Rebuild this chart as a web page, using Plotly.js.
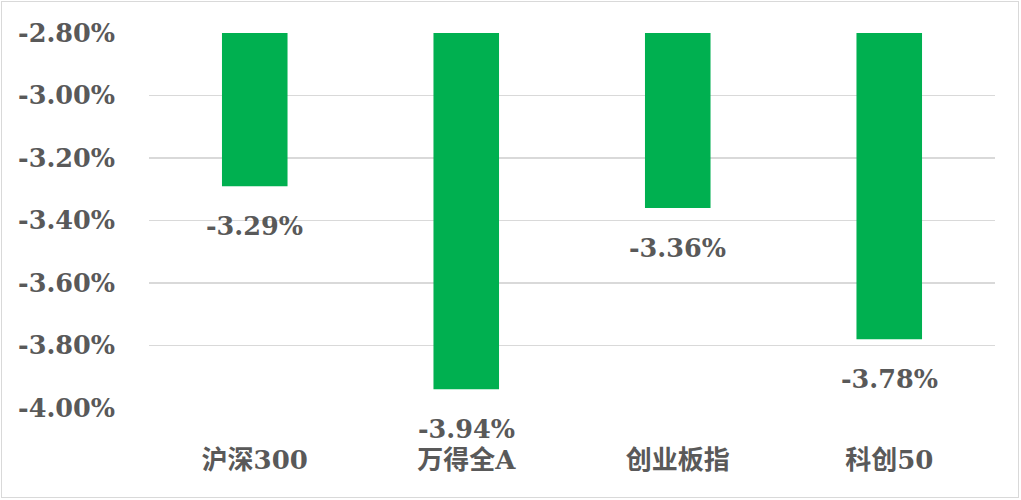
<!DOCTYPE html>
<html><head><meta charset="utf-8">
<script src="https://cdn.plot.ly/plotly-3.0.1.min.js"></script>
<style>
html,body{margin:0;padding:0;background:#fff;}
#wrap{position:relative;width:1021px;height:500px;}
#chart{width:1021px;height:500px;}
#frame{position:absolute;left:1px;top:1px;width:1016px;height:495px;border:1px solid #d9d9d9;pointer-events:none;}
</style></head>
<body>
<div id="wrap"><div id="chart"></div><div id="frame"></div></div>
<script>
const categories = ['沪深300', '万得全A', '创业板指', '科创50'];
const values = [-3.29, -3.94, -3.36, -3.78];
const labels = ['-3.29%', '-3.94%', '-3.36%', '-3.78%'];
const tickVals = [-2.8, -3.0, -3.2, -3.4, -3.6, -3.8, -4.0];
const tickText = ['-2.80%', '-3.00%', '-3.20%', '-3.40%', '-3.60%', '-3.80%', '-4.00%'];
const baseValue = -2.8;

const fontFam = '"DejaVu Serif", "Noto Sans CJK SC", serif';
const grey = '#595959';

const trace = {
  type: 'bar',
  x: categories,
  y: values.map(v => v - baseValue),
  base: values.map(() => baseValue),
  marker: {color: '#00B050', line: {width: 0}},
  width: 0.31,
  hoverinfo: 'skip'
};

const annotations = categories.map((c, i) => ({
  x: c, y: values[i], xref: 'x', yref: 'y',
  text: labels[i], showarrow: false, yanchor: 'top', yshift: -23,
  font: {family: fontFam, size: 25.5, color: grey, weight: 'bold'}
}));

const layout = {
  width: 1021, height: 500,
  margin: {l: 149, r: 26, t: 33, b: 92},
  paper_bgcolor: '#ffffff', plot_bgcolor: '#ffffff',
  showlegend: false,
  bargap: 0.69,
  xaxis: {
    type: 'category', showgrid: false, zeroline: false, showline: false,
    ticks: '', ticklabelstandoff: 34,
    tickfont: {family: fontFam, size: 26, color: grey, weight: 'bold'}
  },
  yaxis: {
    range: [-4.0, -2.8], tickvals: tickVals, ticktext: tickText,
    showgrid: true, gridcolor: '#d9d9d9', gridwidth: 1.3,
    zeroline: false, showline: false, ticks: '', ticklabelstandoff: 33,
    tickfont: {family: fontFam, size: 25.5, color: grey, weight: 'bold'}
  },
  annotations: annotations
};

Plotly.newPlot('chart', [trace], layout, {displayModeBar: false, staticPlot: true});
</script>
</body></html>
